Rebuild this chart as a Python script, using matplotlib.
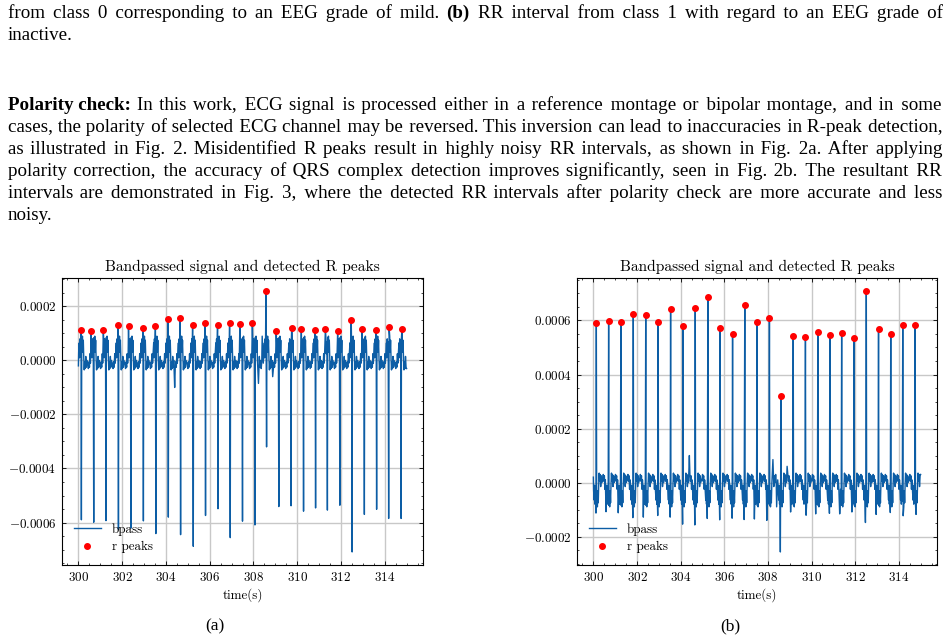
import matplotlib
matplotlib.use('Agg')
import matplotlib.pyplot as plt
from matplotlib.ticker import AutoMinorLocator, FuncFormatter

# ---------------- data ----------------
# R-spike times (s) and amplitudes of the correctly oriented signal (panel b)
beat_times = [300.136, 300.70, 301.26, 301.83, 302.40, 302.97, 303.54, 304.11,
              304.67, 305.25, 305.81, 306.38, 306.94, 307.50, 308.07, 308.60,
              309.16, 309.72, 310.29, 310.84, 311.38, 311.95, 312.51, 313.07,
              313.63, 314.18, 314.75]
r_amp = [0.000590, 0.000599, 0.000593, 0.000625, 0.000621, 0.000594, 0.000641,
         0.000580, 0.000645, 0.000688, 0.000574, 0.000549, 0.000656, 0.000595,
         0.000609, 0.000320, 0.000541, 0.000538, 0.000558, 0.000546, 0.000554,
         0.000536, 0.000709, 0.000570, 0.000551, 0.000585, 0.000585]
# peaks detected on the reversed signal (panel a)
a_peak_times = [300.12, 300.58, 301.14, 301.81, 302.29, 302.95, 303.52, 304.09,
                304.65, 305.22, 305.79, 306.36, 306.91, 307.38, 307.95, 308.57,
                309.04, 309.75, 310.19, 310.82, 311.29, 311.85, 312.47, 312.96,
                313.61, 314.20, 314.79]
a_peak_vals = [0.000113, 0.000108, 0.000112, 0.000130, 0.000128, 0.000122,
               0.000128, 0.000154, 0.000157, 0.000133, 0.000138, 0.000132,
               0.000137, 0.000135, 0.000140, 0.000257, 0.000109, 0.000121,
               0.000116, 0.000114, 0.000116, 0.000109, 0.000148, 0.000118,
               0.000111, 0.000123, 0.000118]
# beat waveform shape around each R spike (offset s, value x1e-4)
tmpl_offsets = [-0.27, -0.245, -0.22, -0.195, -0.17, -0.15, -0.125, -0.10,
                -0.085, -0.065, -0.05, -0.035, -0.02, 0.016, 0.03, 0.048,
                0.068, 0.088, 0.11, 0.13, 0.15, 0.175, 0.20, 0.225, 0.25]
tmpl_values = [0.15, 0.3, 0.05, 0.25, -0.25, 0.1, -0.3, -0.65,
               -0.1, -0.8, -0.25, -0.7, -0.3, -0.85, -0.35, -0.9,
               -0.3, -0.75, -0.05, 0.35, 0.05, 0.3, -0.15, 0.25, 0.0]
extra_times = [304.40, 308.23, 308.40, 308.88]
extra_values = [1.0, 0.85, -0.9, 0.6]
t_start, t_end = 300.0, 315.0
start_val, end_val = 0.2, 0.3

x_ticks = [300, 302, 304, 306, 308, 310, 312, 314]
y_ticks_a = [-0.0006, -0.0004, -0.0002, 0.0, 0.0002]
y_ticks_b = [-0.0002, 0.0, 0.0002, 0.0004, 0.0006]

title_txt = 'Bandpassed signal and detected R peaks'
xlabel_txt = 'time(s)'

caption_line1a = 'from class 0 corresponding to an EEG grade of mild.'
caption_line1b = '(b)'
caption_line1c = 'RR interval from class 1 with regard to an EEG grade of'
caption_line2 = 'inactive.'
para_bold = 'Polarity check:'
para_lines = [
    'In this work, ECG signal is processed either in a reference montage or bipolar montage, and in some',
    'cases, the polarity of selected ECG channel may be reversed. This inversion can lead to inaccuracies in R-peak detection,',
    'as illustrated in Fig. 2. Misidentified R peaks result in highly noisy RR intervals, as shown in Fig. 2a. After applying',
    'polarity correction, the accuracy of QRS complex detection improves significantly, seen in Fig. 2b. The resultant RR',
    'intervals are demonstrated in Fig. 3, where the detected RR intervals after polarity check are more accurate and less',
    'noisy.',
]


def build_signal():
    pts = []
    n = len(beat_times)
    for i, t in enumerate(beat_times):
        lo = t_start if i == 0 else (beat_times[i - 1] + t) / 2
        hi = t_end if i == n - 1 else (t + beat_times[i + 1]) / 2
        dip = a_peak_times[i]
        for off, v in zip(tmpl_offsets, tmpl_values):
            tt = t + off
            if not (lo < tt < hi):
                continue
            if abs(tt - dip) < 0.012 or abs(tt - t) < 0.012:
                continue
            if any(abs(tt - e) < 0.015 for e in extra_times):
                continue
            pts.append((tt, v * 1e-4))
        pts.append((t, r_amp[i]))
        pts.append((dip, -a_peak_vals[i]))
    for e, v in zip(extra_times, extra_values):
        pts.append((e, v * 1e-4))
    pts.append((t_start, start_val * 1e-4))
    pts.append((t_end, end_val * 1e-4))
    pts.sort()
    return [p[0] for p in pts], [p[1] for p in pts]


sig_t, sig_v = build_signal()
sig_v_rev = [-v for v in sig_v]

# ---------------- style ----------------
plt.rcParams.update({
    'font.family': 'cmr10',
    'mathtext.fontset': 'cm',
    'axes.formatter.use_mathtext': True,
    'font.size': 9.4,
    'axes.linewidth': 0.8,
    'xtick.direction': 'in', 'ytick.direction': 'in',
    'xtick.top': True, 'ytick.right': True,
    'xtick.major.size': 3, 'ytick.major.size': 3,
    'xtick.minor.size': 1.5, 'ytick.minor.size': 1.5,
    'xtick.major.width': 0.6, 'ytick.major.width': 0.6,
    'xtick.minor.width': 0.5, 'ytick.minor.width': 0.5,
    'xtick.minor.visible': True, 'ytick.minor.visible': True,
})

LINE_C = '#0C5DA5'
W, H = 950, 639
fig = plt.figure(figsize=(W / 100, H / 100), dpi=100)
TICK_FS = 9.4


def yfmt(v, pos):
    return r'$%.4f$' % v if abs(v) > 1e-12 else r'$0.0000$'


def xfmt(v, pos):
    return r'$%d$' % round(v)


def make_axes(rect, t, v, dt, dv, yticks):
    ax = fig.add_axes(rect)
    ax.plot(t, v, color=LINE_C, lw=1.0, label='bpass', zorder=2)
    ax.plot(dt, dv, 'o', color='red', ms=4, mec='red', label='r peaks', zorder=3,
            linestyle='none')
    ax.set_xticks(x_ticks)
    ax.set_yticks(yticks)
    ax.xaxis.set_major_formatter(FuncFormatter(xfmt))
    ax.yaxis.set_major_formatter(FuncFormatter(yfmt))
    ax.xaxis.set_minor_locator(AutoMinorLocator(4))
    ax.yaxis.set_minor_locator(AutoMinorLocator(4))
    ax.grid(True, which='major', color='#c8c8c8', lw=1.0, zorder=0)
    ax.set_axisbelow(True)
    ax.set_title(title_txt, fontsize=11.1, pad=5)
    ax.set_xlabel(xlabel_txt, fontsize=TICK_FS, labelpad=3)
    ax.tick_params(labelsize=TICK_FS, pad=4)
    ax.legend(loc='lower left', frameon=False, fontsize=TICK_FS, handlelength=2.1,
              borderaxespad=0.5, handletextpad=0.8, labelspacing=0.4)
    return ax


ax_a = make_axes([62 / W, 1 - 565 / H, 361 / W, 287 / H], sig_t, sig_v_rev,
                 a_peak_times, a_peak_vals, y_ticks_a)
ax_b = make_axes([577 / W, 1 - 565 / H, 360 / W, 287 / H], sig_t, sig_v,
                 beat_times, r_amp, y_ticks_b)

fig.text(215 / W, 1 - 626 / H, '(a)', family='Liberation Serif', fontsize=12.5,
         ha='center', va='center')
fig.text(730 / W, 1 - 626 / H, '(b)', family='Liberation Serif', fontsize=12.5,
         ha='center', va='center')

# ---------------- page text (justified with hair spaces) ----------------
renderer = fig.canvas.get_renderer()
X0, X1 = 8, 942
FAM = ['Liberation Serif', 'DejaVu Sans']
HAIR = '\u200a'


def text_width(s, fs, weight='normal'):
    t = fig.text(0, 0, s, family=FAM, fontsize=fs, weight=weight)
    w = t.get_window_extent(renderer).width
    t.remove()
    return w


FS = 10 * (X1 - X0) / text_width(para_lines[1], 10) * 0.985
hair_w = (text_width('a' + HAIR * 20 + 'a', FS) - text_width('aa', FS)) / 20


def justify(s, target):
    words = s.split(' ')
    gaps = len(words) - 1
    if gaps <= 0:
        return s
    nat = text_width(s, FS)
    n_hair = max(0, int(round((target - nat) / hair_w)))
    out = words[0]
    for g in range(gaps):
        k = n_hair * (g + 1) // gaps - n_hair * g // gaps
        out += ' ' + HAIR * k + words[g + 1]
    return out


def put(x, base_y, s, weight='normal'):
    t = fig.text(x / W, 1 - base_y / H, s, family=FAM, fontsize=FS,
                 weight=weight, va='baseline', ha='left')
    return t.get_window_extent(renderer).width


# caption line 1 (contains a bold "(b)")
wa = text_width(caption_line1a, FS)
wb = text_width(caption_line1b, FS, 'bold')
wc = text_width(caption_line1c, FS)
n_words = len(caption_line1a.split(' ')) + 1 + len(caption_line1c.split(' '))
gap = (X1 - X0 - wa - wb - wc - text_width(caption_line1a.replace(' ', ''), FS)
       + wa - text_width(caption_line1c.replace(' ', ''), FS) + wc) / (n_words - 1)
sp = text_width('a a', FS) - text_width('aa', FS)
# justify pieces: distribute extra space among all gaps
extra = (X1 - X0) - (wa + wb + wc + 2 * sp)
gaps_a = len(caption_line1a.split(' ')) - 1
gaps_c = len(caption_line1c.split(' ')) - 1
per_gap = extra / (gaps_a + gaps_c + 2)
wa_j = wa + per_gap * gaps_a
x = X0
put(x, 18, justify(caption_line1a, wa_j))
x += wa_j + sp + per_gap
put(x, 18, caption_line1b, 'bold')
x += wb + sp + per_gap
put(x, 18, justify(caption_line1c, X1 - x))
put(X0, 40, caption_line2)

# paragraph
wbold = text_width(para_bold, FS, 'bold')
put(X0, 110, para_bold, 'bold')
xs = X0 + wbold + sp * 1.3
put(xs, 110, justify(para_lines[0], X1 - xs))
for i, line in enumerate(para_lines[1:], start=1):
    by = 110 + 22 * i
    if i < len(para_lines) - 1:
        put(X0, by, justify(line, X1 - X0))
    else:
        put(X0, by, line)

fig.savefig('out.png', dpi=100)
